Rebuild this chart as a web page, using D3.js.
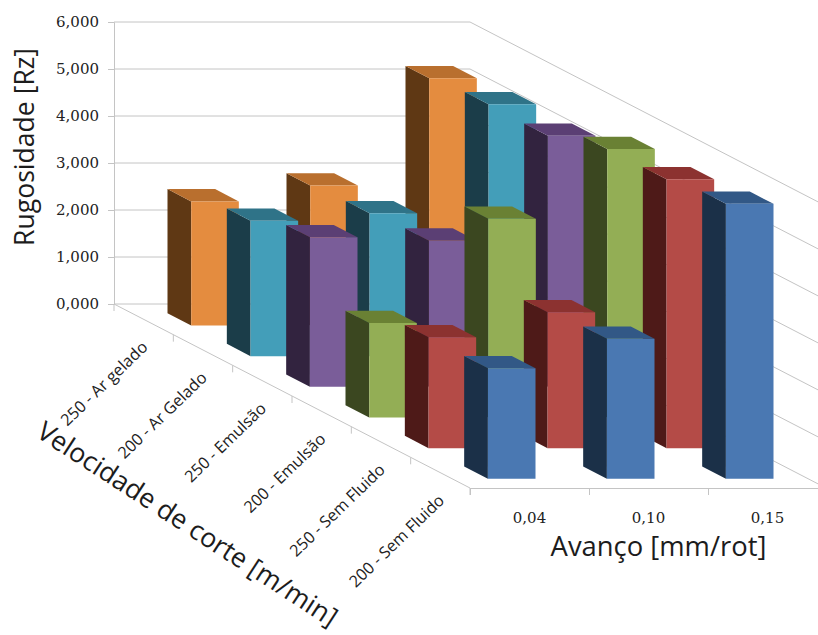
<!DOCTYPE html>
<html lang="pt">
<head>
<meta charset="utf-8">
<script src="https://cdn.jsdelivr.net/npm/d3@7/dist/d3.min.js"></script>
<style>
  html, body { margin: 0; padding: 0; background: #fff; }
  svg { display: block; }
  .title { font-family: "Open Sans", sans-serif; fill: #1c1c1c; }
  .tick-label { font-family: "DejaVu Serif", serif; font-size: 15px; fill: #222; }
  .cat-label { font-family: "Open Sans", sans-serif; font-size: 16.2px; fill: #222; }
  .domain, .tick line { stroke: #c4c4c4; }
</style>
</head>
<body>
<script>
// Categorias (eixo de profundidade) e avanços (eixo horizontal)
const speeds = ["250 - Ar gelado", "200 - Ar Gelado", "250 - Emulsão", "200 - Emulsão", "250 - Sem Fluido", "200 - Sem Fluido"];
const feeds = ["0,04", "0,10", "0,15"];
const roughnessTicks = [0, 1, 2, 3, 4, 5, 6];

// Rugosidade por velocidade, na ordem dos avanços
const arGelado250 = [2.64, 2.98, 5.26];
const arGelado200 = [2.88, 3.04, 5.36];
const emulsao250 = [3.18, 3.11, 5.34];
const emulsao200 = [2.01, 4.23, 5.71];
const semFluido250 = [2.36, 2.89, 5.72];
const semFluido200 = [2.35, 2.98, 5.85];
const rows = [arGelado250, arGelado200, emulsao250, emulsao200, semFluido250, semFluido200];

// Cor de cada série: frente, topo, lateral
const frontColors = ["#e48c3f", "#439eb9", "#7a5d99", "#93ae55", "#b44b47", "#4a78b2"];
const topColors = ["#b96f2e", "#2f7388", "#5b3f74", "#6a8134", "#8c3230", "#325886"];
const sideColors = ["#5f3814", "#1b3d49", "#32233f", "#3b4720", "#4e1a18", "#1b3048"];

const width = 818, height = 635;
const svg = d3.select("body").append("svg").attr("width", width).attr("height", height);

// Projeção oblíqua: o avanço corre na horizontal, a velocidade na diagonal
const yScale = d3.scaleLinear().domain([0, 6]).range([304, 22]);
const feedBand = d3.scaleBand().domain(feeds).range([0, 357]).paddingInner(0.6).paddingOuter(0.3);
const speedBand = d3.scaleBand().domain(speeds).range([0, 1]).paddingInner(0.6).paddingOuter(0.3);
const depthX = d3.scaleLinear().domain([0, 1]).range([114, 470]);
const depthY = d3.scaleLinear().domain([0, 1]).range([0, 184]);
const project = (f, d, v) => [f + depthX(d), yScale(v) + depthY(d)];
const poly = pts => pts.map(p => p.join(",")).join(" ");

// Grelha: parede do fundo e parede lateral
svg.append("g").attr("fill", "none").attr("stroke", "#c4c4c4")
  .selectAll("polyline").data(roughnessTicks).join("polyline")
  .attr("points", v => poly([project(0, 0, v), project(356, 0, v), project(356, 1, v)]));

// Eixo vertical
const yAxis = d3.axisLeft(yScale).tickValues(roughnessTicks)
  .tickFormat(d3.formatLocale({ decimal: ",", thousands: ".", grouping: [3], currency: ["", ""] }).format(".3f"))
  .tickSize(6).tickPadding(9);
svg.append("g").attr("transform", "translate(114,0)").call(yAxis)
  .call(g => g.selectAll("text").attr("class", "tick-label"))
  .attr("font-family", null).attr("font-size", null);

// Eixo do avanço: marcas nos limites das categorias
const feedLinear = d3.scaleLinear().domain([0, 3]).range([0, 357]);
svg.append("g").attr("transform", "translate(470,488)")
  .call(d3.axisBottom(feedLinear).tickValues([0, 1, 2, 3]).tickFormat("").tickSize(7).tickSizeOuter(0));
svg.append("g").selectAll("text").data(feeds).join("text")
  .attr("class", "tick-label").attr("text-anchor", "middle")
  .attr("x", d => 470 + feedBand(d) + feedBand.bandwidth() / 2)
  .attr("y", 523).text(d => d);

// Eixo da velocidade: linha na diagonal do chão, com marcas
const floorLine = svg.append("g").attr("stroke", "#c4c4c4").attr("fill", "none");
floorLine.append("line")
  .attr("x1", depthX(0)).attr("y1", yScale(0)).attr("x2", depthX(1)).attr("y2", yScale(0) + depthY(1));
d3.range(speeds.length + 1).forEach(i => {
  const d = i / speeds.length;
  floorLine.append("line")
    .attr("x1", depthX(d)).attr("y1", yScale(0) + depthY(d))
    .attr("x2", depthX(d)).attr("y2", yScale(0) + depthY(d) + 7);
});
svg.append("g").selectAll("text").data(speeds).join("text")
  .attr("class", "cat-label").attr("text-anchor", "end")
  .attr("transform", d => {
    const c = speedBand(d) + speedBand.bandwidth() / 2;
    return `translate(${depthX(c) + 5},${yScale(0) + depthY(c) + 29}) rotate(-44)`;
  })
  .text(d => d);

// Barras: da fila do fundo para a da frente
rows.forEach((row, r) => {
  const d0 = speedBand(speeds[r]);
  const d1 = d0 + speedBand.bandwidth();
  const g = svg.append("g");
  row.forEach((value, c) => {
    const f0 = feedBand(feeds[c]);
    const f1 = f0 + feedBand.bandwidth();
    g.append("polygon").attr("fill", sideColors[r]).attr("points", poly([
      project(f0, d0, 0), project(f0, d1, 0), project(f0, d1, value), project(f0, d0, value)]));
    g.append("polygon").attr("fill", topColors[r]).attr("points", poly([
      project(f0, d0, value), project(f1, d0, value), project(f1, d1, value), project(f0, d1, value)]));
    g.append("polygon").attr("fill", frontColors[r]).attr("points", poly([
      project(f0, d1, 0), project(f1, d1, 0), project(f1, d1, value), project(f0, d1, value)]));
  });
});

// Títulos dos eixos
svg.append("text").attr("class", "title").attr("font-size", 26.6)
  .attr("text-anchor", "middle").attr("transform", "translate(34,147) rotate(-90)")
  .text("Rugosidade [Rz]");
svg.append("text").attr("class", "title").attr("font-size", 27.4)
  .attr("text-anchor", "middle").attr("x", 658.5).attr("y", 556)
  .text("Avanço [mm/rot]");
svg.append("text").attr("class", "title").attr("font-size", 26.7)
  .attr("text-anchor", "start").attr("transform", "translate(35,436) rotate(33)")
  .text("Velocidade de corte [m/min]");
</script>
</body>
</html>
